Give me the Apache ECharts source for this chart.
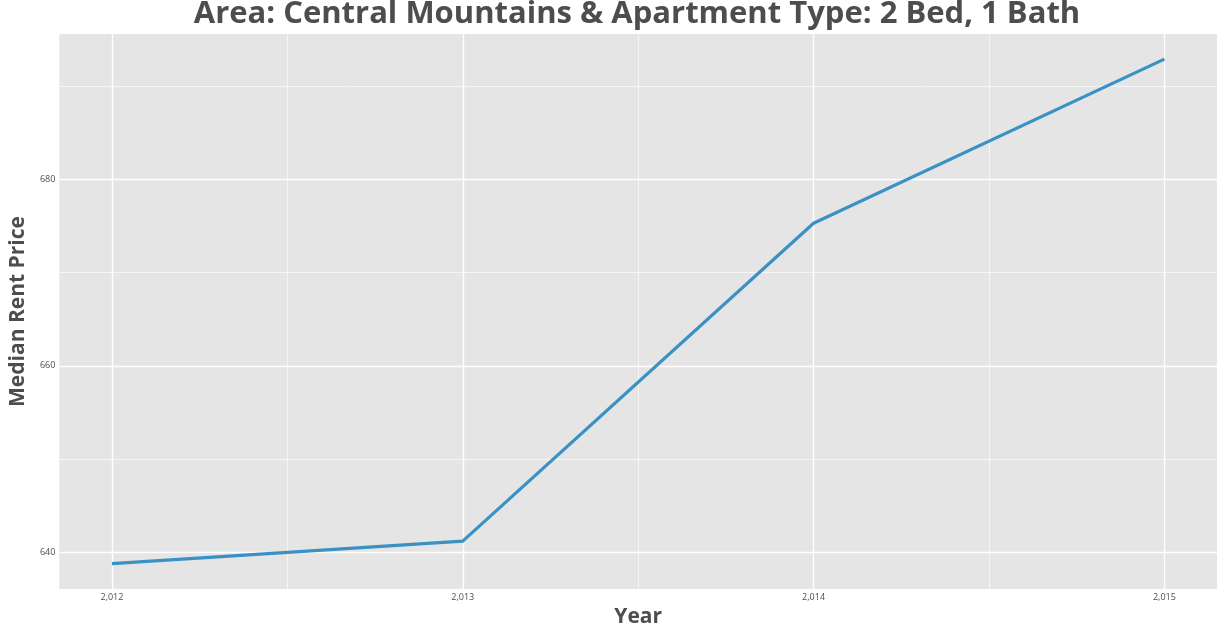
<!DOCTYPE html>
<html><head><meta charset="utf-8">
<script src="https://cdn.jsdelivr.net/npm/echarts@6/dist/echarts.min.js"></script>
<style>html,body{margin:0;padding:0;background:#fff}#c{width:1224px;height:633px}</style>
</head><body><div id="c"></div>
<script>
// values
const years = [2012, 2013, 2014, 2015];
const rent = [638.8, 641.2, 675.3, 692.9];
const xMajor = [2012, 2013, 2014, 2015];
const xMinor = [2012.5, 2013.5, 2014.5];
const yMajor = [640, 660, 680];
const yMinor = [650, 670, 690];

const font = '"Open Sans", "DejaVu Sans", sans-serif';
const gridLines = [
  ...xMajor.map(v => ({ xAxis: v, lineStyle: { width: 1.3 } })),
  ...xMinor.map(v => ({ xAxis: v, lineStyle: { width: 0.6 } })),
  ...yMajor.map(v => ({ yAxis: v, lineStyle: { width: 1.3 } })),
  ...yMinor.map(v => ({ yAxis: v, lineStyle: { width: 0.6 } }))
];

const chart = echarts.init(document.getElementById('c'));
chart.setOption({
  animation: false,
  title: {
    text: 'Area: Central Mountains & Apartment Type: 2 Bed, 1 Bath',
    left: 632, top: -6, textAlign: 'center',
    textStyle: { fontFamily: font, fontSize: 31, fontWeight: 'bold', color: '#4d4d4d' }
  },
  grid: { left: 47, right: 7, top: 34, bottom: 39, backgroundColor: '#e5e5e5', show: true, borderWidth: 0 },
  xAxis: {
    type: 'value', min: 2011.85, max: 2015.15,
    name: 'Year', nameLocation: 'middle', nameGap: 14,
    nameTextStyle: { fontFamily: font, fontSize: 21, fontWeight: 'bold', color: '#4d4d4d' },
    splitLine: { show: false }, axisLine: { show: false },
    axisTick: { show: false },
    axisLabel: { customValues: xMajor, fontSize: 9, color: '#4d4d4d', margin: 4, fontFamily: font }
  },
  yAxis: {
    type: 'value', min: 636.06, max: 695.6,
    name: 'Median Rent Price', nameLocation: 'middle', nameGap: 28,
    nameTextStyle: { fontFamily: font, fontSize: 21, fontWeight: 'bold', color: '#4d4d4d' },
    splitLine: { show: false }, axisLine: { show: false },
    axisTick: { show: false },
    axisLabel: { customValues: yMajor, fontSize: 9, color: '#4d4d4d', margin: 4, fontFamily: font }
  },
  series: [{
    type: 'line',
    data: years.map((y, i) => [y, rent[i]]),
    showSymbol: false,
    lineStyle: { color: '#3a91c4', width: 3.2 },
    markLine: {
      silent: true, symbol: 'none', label: { show: false },
      lineStyle: { color: '#ffffff', type: 'solid' },
      data: gridLines, z: 1
    }
  }]
});
</script></body></html>
